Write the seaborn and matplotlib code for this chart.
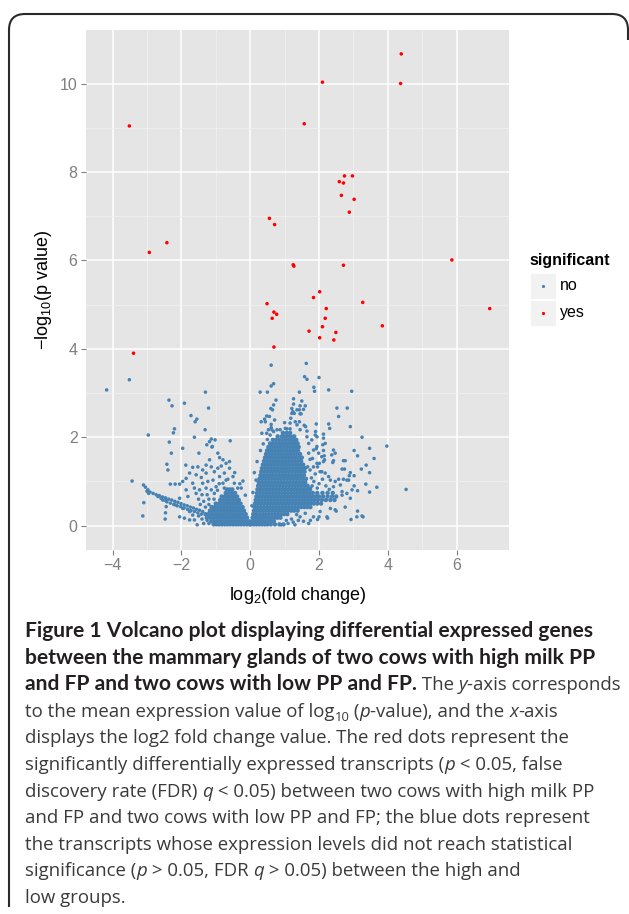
import matplotlib.pyplot as plt
from matplotlib.lines import Line2D
from matplotlib.patches import Rectangle, PathPatch
from matplotlib.path import Path
import pandas as pd
import seaborn as sns

# SIGNIFICANT TRANSCRIPTS (RED)
sig_x = [4.39, 2.10, 4.37, -3.51, 1.57, 2.74, 2.97, 2.59, 2.71, 2.65, 3.02, 2.88, 0.56, 0.71,
         -2.42, -2.93, 5.86, 1.25, 1.27, 2.71, 2.02, 1.84, 0.49, 3.27, 6.96, 2.21, 0.69, 0.77,
         0.64, 2.18, 3.84, 2.10, 1.71, 2.49, 2.02, 2.43, 0.69, -3.39]
sig_y = [10.67, 10.03, 10.00, 9.04, 9.09, 7.91, 7.91, 7.78, 7.75, 7.47, 7.38, 7.09, 6.95, 6.81,
         6.40, 6.18, 6.01, 5.90, 5.87, 5.89, 5.29, 5.16, 5.02, 5.05, 4.91, 4.91, 4.83, 4.78,
         4.69, 4.69, 4.52, 4.50, 4.40, 4.37, 4.25, 4.20, 4.04, 3.90]

# NON-SIGNIFICANT, SCATTERED, LEFT OF ZERO
left_x = [-4.17, -3.51, -1.30, -2.36, -1.91, -2.27, -1.21, -1.72, -1.55, -1.60, -2.20, -2.23,
          -1.31, -2.96, -1.62, -1.13, -1.02, -0.58, -2.35, -1.18, -1.26, -1.11, -1.96, -2.29,
          -1.49, -2.42, -1.87, -2.39, -1.18, -0.89, -1.67, -1.52, -1.38, -1.28, -3.43, -3.10,
          -3.04, -2.97, -2.95, -3.09, -3.12, -2.46, -2.44, -2.46, -2.47, -2.32, -2.18, -2.05,
          -0.21, -0.14, -1.54, -1.76, -1.57, -1.42, -1.13, -1.04, -0.94, -0.84, -0.75, -0.60,
          -0.89, -1.08, -1.23, -1.38, -1.67, -1.86, -1.96, -1.86, -1.62, -1.47, -1.28, -1.13,
          -0.99, -0.79, -0.70, -0.50, -0.46, -0.36, -1.04, -1.57, -1.81, -2.05, -2.17, -1.96,
          -1.76, -1.67, -1.91, -2.05, -1.76, -1.62, -2.68, -2.59, -2.54, -1.28, -0.70, -0.60,
          -0.79, -0.94, -1.10, -0.26, -1.20, -1.35, -1.50, -1.25, -0.95, -1.40, -0.75, -0.90,
          -1.05, -1.20, -1.45, -1.30, -1.40, -1.25, -1.50, -1.20, -1.35, -0.30, -0.45, -0.65]
left_y = [3.07, 3.30, 3.02, 2.84, 2.77, 2.71, 2.66, 2.49, 2.41, 2.35, 2.19, 2.10,
          2.17, 2.05, 2.00, 1.96, 1.94, 1.92, 1.89, 1.90, 1.83, 1.78, 1.75, 1.64,
          1.64, 1.39, 1.37, 1.26, 1.49, 1.54, 1.32, 1.33, 1.26, 1.19, 1.01, 0.92,
          0.87, 0.81, 0.73, 0.52, 0.22, 0.57, 0.43, 0.29, 0.15, 0.94, 0.94, 0.94,
          1.01, 0.69, 0.02, 1.19, 1.15, 1.09, 1.33, 1.22, 1.30, 1.35, 1.19, 1.30,
          1.11, 1.03, 1.00, 0.96, 0.96, 0.81, 1.00, 1.07, 0.85, 0.81, 0.85, 0.81,
          0.88, 0.96, 1.03, 1.11, 0.96, 0.85, 0.73, 0.73, 0.66, 0.62, 0.47, 0.39,
          0.32, 0.24, 0.17, 0.20, 0.13, 0.13, 0.66, 0.62, 0.58, 1.37, 1.41, 1.45,
          1.49, 1.64, 1.79, 0.85, 0.60, 0.55, 0.60, 0.70, 0.80, 0.70, 0.85, 0.95,
          0.60, 0.48, 0.48, 0.42, 0.15, 0.12, 0.22, 0.05, 0.05, 0.95, 1.20, 1.05]

# NON-SIGNIFICANT, SCATTERED, RIGHT OF ZERO
right_x = [0.61, 1.63, 1.58, 1.65, 2.00, 0.68, 0.61, 0.29, 0.50, 1.43, 1.85, 1.87, 2.28, 2.95,
           0.75, 0.68, 0.60, 0.65, 1.26, 1.26, 1.21, 1.24, 1.21, 1.50, 1.60, 1.55, 1.43, 1.48,
           2.52, 2.82, 2.57, 0.48, 0.42, 0.32, 0.71, 0.61, 0.61, 0.53, 0.68, 1.00, 1.31, 1.36,
           1.43, 1.92, 2.28, 2.31, 2.91, 1.07, 1.16, 0.87, 1.45, 1.61, 1.65, 1.90, 2.13, 2.13,
           3.25, 1.45, 1.36, 1.28, 1.45, 1.18, 0.56, 0.44, 0.34, 0.48, 0.63, 0.78, 1.02, 1.16,
           1.57, 0.17, 0.05, 0.08, 0.12, 0.20, 0.30, 0.38, 0.50, 0.58, 3.02, 3.12, 3.37, 3.68,
           3.47, 3.36, 3.12, 3.12, 3.25, 2.93, 3.02, 2.86, 2.76, 2.67, 2.40, 2.37, 2.15, 2.13,
           2.11, 2.50, 2.25, 1.96, 3.97, 3.47, 3.60, 3.23, 3.47, 3.02, 4.53, 3.10, 3.28, 2.76,
           2.67, 2.62, 2.23, 1.84, 2.00, 0.90, 2.42, 2.47, 2.42, 2.71, 2.74, 2.91, 2.88, 2.81,
           2.71, 2.57, 2.18, 2.16, 2.01, 2.08, 1.94, 1.92, 1.81, 1.96, 1.89, 1.70, 1.74, 1.67,
           1.65, 1.70, 1.79, 1.89, 1.94, 1.84, 1.99, 2.08, 2.13, 1.94, 1.84, 1.74, 2.03, 2.18,
           2.28, 2.33, 2.47, 2.42, 2.67, 2.81, 2.96, 2.91, 2.03, 2.33, 2.47, 1.10, 1.25, 1.40,
           1.55, 1.70, 1.30, 1.45, 1.75, 1.60, 1.35, 1.20, 1.05, 1.80, 1.85, 1.78, 2.00, 2.10,
           1.95, 2.20, 2.30, 1.75]
right_y = [3.63, 3.67, 3.37, 3.31, 3.35, 3.21, 3.16, 3.02, 3.02, 3.02, 3.13, 3.04, 3.07, 3.04,
           2.84, 2.73, 2.65, 2.62, 2.87, 2.75, 2.65, 2.58, 2.54, 2.82, 2.71, 2.63, 2.62, 2.53,
           2.66, 2.66, 2.47, 2.48, 2.41, 2.35, 2.39, 2.29, 2.22, 2.17, 2.13, 2.33, 2.35, 2.28,
           2.35, 2.30, 2.30, 2.20, 2.24, 2.19, 2.19, 2.17, 2.17, 2.24, 2.14, 2.13, 2.07, 1.98,
           2.00, 2.71, 2.62, 2.54, 2.53, 2.43, 2.47, 2.35, 2.09, 2.09, 2.17, 2.17, 2.20, 2.32,
           2.27, 1.03, 0.45, 0.75, 1.20, 1.45, 1.70, 1.85, 1.95, 2.05, 1.70, 1.58, 1.37, 0.87,
           0.76, 0.94, 0.79, 0.33, 0.22, 0.14, 1.13, 1.03, 1.47, 1.28, 1.43, 1.60, 1.58, 1.70,
           1.83, 0.33, 0.17, 0.14, 1.80, 1.75, 1.52, 1.28, 1.20, 0.90, 0.82, 0.20, 0.20, 0.42,
           0.69, 0.92, 0.20, 0.20, 0.20, 0.02, 1.71, 1.64, 1.47, 1.47, 1.28, 1.20, 1.13, 1.03,
           1.05, 1.05, 1.86, 1.49, 1.41, 1.22, 2.01, 1.74, 1.52, 1.33, 1.17, 1.64, 1.50, 1.33,
           2.01, 1.86, 1.94, 2.05, 1.79, 1.71, 1.64, 1.56, 1.45, 1.41, 1.33, 1.26, 1.22, 1.19,
           1.11, 1.03, 1.00, 0.88, 0.77, 0.73, 0.81, 0.62, 0.32, 0.39, 0.36, 0.05, 0.08, 0.12,
           0.10, 0.05, 0.02, 0.20, 0.12, 0.28, 0.25, 0.15, 0.12, 0.90, 1.00, 1.08, 0.95, 1.05,
           0.85, 0.90, 0.82, 0.85]

# NON-SIGNIFICANT, LEFT WING BAND
lwing_x = [-1.38, -1.47, -1.56, -1.65, -1.74, -1.83, -1.92, -2.01, -2.10, -2.19, -2.28, -2.37,
           -2.46, -2.55, -2.64, -2.73, -2.82, -2.91, -3.00, -1.42, -1.52, -1.62, -1.72, -1.82,
           -1.92, -2.02, -2.12, -2.22, -2.32, -2.42]
lwing_y = [0.32, 0.35, 0.37, 0.40, 0.42, 0.45, 0.47, 0.50, 0.53, 0.55, 0.58, 0.60,
           0.63, 0.65, 0.68, 0.70, 0.73, 0.76, 0.78, 0.26, 0.29, 0.32, 0.34, 0.37,
           0.40, 0.43, 0.45, 0.48, 0.51, 0.54]

# NON-SIGNIFICANT, DENSE CORE: ONE Y PER ROW, THE X VALUES READ ALONG THAT ROW
core_y = [0.03, 0.10, 0.18, 0.26, 0.34, 0.42, 0.50, 0.58, 0.66, 0.74, 0.82, 0.90, 0.98, 1.06,
          1.14, 1.22, 1.30, 1.38, 1.46, 1.54, 1.62, 1.70, 1.78, 1.86, 1.94, 2.02, 2.10]
core_x = [
    [-1.06, -0.98, -0.9, -0.82, -0.74, -0.66, -0.58, -0.5, -0.42, -0.34, -0.26, -0.18, -0.1, -0.02,
     0.02, 0.1, 0.18, 0.26, 0.34, 0.42, 0.5, 0.6, 0.72, 0.85, 0.97],
    [-1.13, -1.04, -0.95, -0.86, -0.77, -0.68, -0.59, -0.5, -0.41, -0.32, -0.23, -0.14, -0.05,
     0.04, 0.12, 0.2, 0.28, 0.36, 0.44, 0.52, 0.6, 0.69],
    [-1.26, -1.17, -1.08, -0.99, -0.9, -0.81, -0.72, -0.63, -0.54, -0.45, -0.36, -0.27, -0.18, -0.09,
     0.07, 0.15, 0.23, 0.31, 0.39, 0.47, 0.55, 0.63, 0.71, 0.79, 0.88],
    [-1.3, -1.21, -1.12, -1.03, -0.94, -0.85, -0.76, -0.67, -0.58, -0.49, -0.4, -0.31, -0.22, -0.13,
     0.09, 0.18, 0.27, 0.36, 0.45, 0.54, 0.63, 0.72, 0.81, 0.9, 0.99, 1.08],
    [-1.17, -1.08, -0.99, -0.9, -0.81, -0.72, -0.63, -0.54, -0.45, -0.36, -0.27, -0.18,
     0.11, 0.2, 0.29, 0.38, 0.47, 0.56, 0.65, 0.74, 0.83, 0.92, 1.01, 1.1, 1.19, 1.28, 1.38],
    [-1.12, -1.03, -0.94, -0.85, -0.76, -0.67, -0.58, -0.49, -0.4, -0.31, -0.22,
     0.13, 0.22, 0.31, 0.4, 0.49, 0.58, 0.67, 0.76, 0.85, 0.94, 1.03, 1.12, 1.21, 1.3, 1.39,
     1.48, 1.57, 1.66, 1.75],
    [-1.0, -0.91, -0.82, -0.73, -0.64, -0.55, -0.46, -0.37, -0.28,
     0.14, 0.23, 0.32, 0.41, 0.5, 0.59, 0.68, 0.77, 0.86, 0.95, 1.04, 1.13, 1.22, 1.31, 1.4,
     1.49, 1.58, 1.67, 1.76, 1.85, 1.95, 2.06],
    [-0.87, -0.78, -0.69, -0.6, -0.51, -0.42, -0.33,
     0.16, 0.25, 0.34, 0.43, 0.52, 0.61, 0.7, 0.79, 0.88, 0.97, 1.06, 1.15, 1.24, 1.33, 1.42,
     1.51, 1.6, 1.69, 1.78, 1.87, 1.97, 2.08, 2.2, 2.33, 2.45],
    [-0.83, -0.74, -0.65, -0.56, -0.47, -0.38,
     0.18, 0.27, 0.36, 0.45, 0.54, 0.63, 0.72, 0.81, 0.9, 0.99, 1.08, 1.17, 1.26, 1.35, 1.44,
     1.53, 1.62, 1.71, 1.8, 1.9, 2.0, 2.12, 2.25, 2.38, 2.5],
    [-0.71, -0.62, -0.53, -0.44,
     0.2, 0.29, 0.38, 0.47, 0.56, 0.65, 0.74, 0.83, 0.92, 1.01, 1.1, 1.19, 1.28, 1.37, 1.46,
     1.55, 1.64, 1.73, 1.82, 1.95, 2.1, 2.25, 2.4],
    [-0.68, -0.6, -0.52,
     0.21, 0.3, 0.39, 0.48, 0.57, 0.66, 0.75, 0.84, 0.93, 1.02, 1.11, 1.2, 1.29, 1.38, 1.47,
     1.56, 1.65, 1.74],
    [0.23, 0.32, 0.41, 0.5, 0.59, 0.68, 0.77, 0.86, 0.95, 1.04, 1.13, 1.22, 1.31, 1.4, 1.49,
     1.58, 1.67],
    [0.25, 0.34, 0.43, 0.52, 0.61, 0.7, 0.79, 0.88, 0.97, 1.06, 1.15, 1.24, 1.33, 1.42, 1.51, 1.6],
    [0.27, 0.36, 0.45, 0.54, 0.63, 0.72, 0.81, 0.9, 0.99, 1.08, 1.17, 1.26, 1.35, 1.44, 1.53, 1.62],
    [0.3, 0.39, 0.48, 0.57, 0.66, 0.75, 0.84, 0.93, 1.02, 1.11, 1.2, 1.29, 1.38, 1.47, 1.56],
    [0.32, 0.41, 0.5, 0.59, 0.68, 0.77, 0.86, 0.95, 1.04, 1.13, 1.22, 1.31, 1.4, 1.49, 1.58],
    [0.34, 0.43, 0.52, 0.61, 0.7, 0.79, 0.88, 0.97, 1.06, 1.15, 1.24, 1.33, 1.42, 1.51, 1.59],
    [0.37, 0.46, 0.55, 0.64, 0.73, 0.82, 0.91, 1.0, 1.09, 1.18, 1.27, 1.36, 1.45, 1.54],
    [0.4, 0.49, 0.58, 0.67, 0.76, 0.85, 0.94, 1.03, 1.12, 1.21, 1.3, 1.39, 1.48],
    [0.43, 0.52, 0.61, 0.7, 0.79, 0.88, 0.97, 1.06, 1.15, 1.24, 1.33, 1.42, 1.5],
    [0.46, 0.55, 0.64, 0.73, 0.82, 0.91, 1.0, 1.09, 1.18, 1.27, 1.36, 1.45],
    [0.49, 0.58, 0.67, 0.76, 0.85, 0.94, 1.03, 1.12, 1.21, 1.3, 1.39],
    [0.53, 0.62, 0.71, 0.8, 0.89, 0.98, 1.07, 1.16, 1.25, 1.34, 1.41],
    [0.58, 0.67, 0.76, 0.85, 0.94, 1.03, 1.12, 1.21, 1.3, 1.38],
    [0.66, 0.75, 0.84, 0.93, 1.02, 1.11, 1.2, 1.28, 1.34],
    [0.8, 0.92, 1.01, 1.1, 1.19, 1.28],
    [0.95, 1.06, 1.16],
]

# AXIS AND LEGEND TEXT
x_ticks = [-4, -2, 0, 2, 4, 6]
y_ticks = [0, 2, 4, 6, 8, 10]
x_title = r'log$_2$(fold change)'
y_title = '\u2212log$_{10}$(p value)'
legend_title = 'significant'
legend_labels = ['no', 'yes']
point_colors = {'no': 'steelblue', 'yes': 'red'}

# CAPTION: (text, style) PIECES PER LINE
caption = [
    [('Figure 1 Volcano plot displaying differential expressed genes', 'b')],
    [('between the mammary glands of two cows with high milk PP', 'b')],
    [('and FP and two cows with low PP and FP.', 'b'), (' The ', 'r'), ('y', 'i'),
     ('-axis corresponds', 'r')],
    [('to the mean expression value of log', 'r'), ('10', 's'), (' (', 'r'), ('p', 'i'),
     ('-value), and the ', 'r'), ('x', 'i'), ('-axis', 'r')],
    [('displays the log2 fold change value. The red dots represent the', 'r')],
    [('significantly differentially expressed transcripts (', 'r'), ('p', 'i'),
     (' < 0.05, false', 'r')],
    [('discovery rate (FDR) ', 'r'), ('q', 'i'), (' < 0.05) between two cows with high milk PP', 'r')],
    [('and FP and two cows with low PP and FP; the blue dots represent', 'r')],
    [('the transcripts whose expression levels did not reach statistical', 'r')],
    [('significance (', 'r'), ('p', 'i'), (' > 0.05, FDR ', 'r'), ('q', 'i'),
     (' > 0.05) between the high and', 'r')],
    [('low groups.', 'r')],
]

# BUILD TABLES: SCATTERED BLUE, DENSE BLUE CORE, RED
rows = []
for x, y in zip(left_x + right_x + lwing_x, left_y + right_y + lwing_y):
    rows.append((x, y, 'no'))
for x, y in zip(sig_x, sig_y):
    rows.append((x, y, 'yes'))
volcano = pd.DataFrame(rows, columns=['log2fc', 'logp', 'significant'])

core_rows = []
for y, xs in zip(core_y, core_x):
    for x in xs:
        core_rows.append((x, y, 'no'))
core = pd.DataFrame(core_rows, columns=['log2fc', 'logp', 'significant'])

plt.rcParams['font.family'] = ['Liberation Sans Narrow', 'Liberation Sans', 'DejaVu Sans']
plt.rcParams['mathtext.default'] = 'regular'

W, H = 629, 914
def fx(px): return px / W
def fy(py): return 1 - py / H

fig = plt.figure(figsize=(6.29, 9.14), dpi=100)
ax = fig.add_axes([fx(86), fy(550), 423 / W, 520 / H])

# thousands of overlapping points in the core read as one solid mass
sns.scatterplot(data=core, x='log2fc', y='logp', hue='significant', palette=point_colors,
                s=10, linewidth=0, legend=False, ax=ax, zorder=3)
sns.scatterplot(data=volcano, x='log2fc', y='logp', hue='significant', palette=point_colors,
                s=6.5, linewidth=0, legend=False, ax=ax, zorder=4)

# GGPLOT-LIKE PANEL
ax.set_facecolor('#E5E5E5')
ax.set_xlim(-4.77, 7.52)
ax.set_ylim(-0.55, 11.21)
ax.set_xticks(x_ticks)
ax.set_xticks([-3, -1, 1, 3, 5], minor=True)
ax.set_yticks(y_ticks)
ax.set_yticks([1, 3, 5, 7, 9], minor=True)
ax.grid(which='major', color='white', lw=1.1)
ax.grid(which='minor', color='#F2F2F2', lw=0.55)
ax.set_axisbelow(True)
for s in ax.spines.values():
    s.set_visible(False)
ax.tick_params(which='major', length=3.6, width=0.8, color='#7F7F7F',
               labelcolor='#7F7F7F', labelsize=11.5, pad=2.5)
ax.tick_params(which='minor', length=0)

ax.set_xlabel(x_title, fontsize=13, family='Liberation Sans', color='black')
ax.set_ylabel(y_title, fontsize=13, family='Liberation Sans', color='black')
ax.xaxis.set_label_coords(0.5, (550 - 595) / 520)
ax.xaxis.label.set_va('center')
ax.yaxis.set_label_coords((43 - 86) / 423, 0.5)
ax.yaxis.label.set_va('center')

# LEGEND (DRAWN BY HAND IN GGPLOT STYLE)
fig.text(fx(529), fy(261), legend_title, fontsize=11.5, fontweight='bold',
         family='Liberation Sans', va='center')
for i, lab in enumerate(legend_labels):
    top = 273 + 27 * i
    fig.add_artist(Rectangle((fx(530), fy(top + 26)), 26 / W, 26 / H,
                             transform=fig.transFigure, fc='#F2F2F2', ec='white', lw=0.6))
    fig.add_artist(Line2D([fx(543)], [fy(top + 13)], marker='o', ms=2.3, mew=0,
                          color=point_colors[lab], transform=fig.transFigure))
    fig.text(fx(560), fy(top + 13), lab, fontsize=11.5, family='Liberation Sans', va='center')

# PAGE FRAME WITH ROUNDED TOP CORNERS
frame = Path([(fx(9), fy(907)), (fx(9), fy(30)), (fx(9), fy(14)), (fx(25), fy(14)),
              (fx(612), fy(14)), (fx(628), fy(14)), (fx(628), fy(30)), (fx(628), fy(40))],
             [Path.MOVETO, Path.LINETO, Path.CURVE3, Path.CURVE3, Path.LINETO, Path.CURVE3,
              Path.CURVE3, Path.LINETO])
fig.add_artist(PathPatch(frame, fc='none', ec='#2A2A2A', lw=1.5, transform=fig.transFigure))

# CAPTION
renderer = fig.canvas.get_renderer()

def piece_width(txt, st):
    a = fig.text(0, 0, txt + 'x', **st)
    b = fig.text(0, 0, 'x', **st)
    w = a.get_window_extent(renderer).width - b.get_window_extent(renderer).width
    a.remove()
    b.remove()
    return w

# size the two caption fonts so the full-width lines span the same pixels as the page
bold_st = dict(family='Lato', fontweight='bold', fontsize=14, color='#231F20')
bold_st['fontsize'] *= 571 / piece_width(caption[0][0][0], bold_st)
reg_st = dict(family='Open Sans', fontsize=12.6, color='#3A3A3A')
reg_st['fontsize'] *= 544 / piece_width(caption[4][0][0], reg_st)

def piece_style(kind):
    if kind == 'b':
        return dict(bold_st)
    st = dict(reg_st)
    if kind == 'i':
        st['fontstyle'] = 'italic'
    elif kind == 's':
        st['fontsize'] *= 0.7
    return st

for k, line in enumerate(caption):
    base = 637 + 26.6 * k
    x = 25
    for txt, kind in line:
        st = piece_style(kind)
        y = base + 4 if kind == 's' else base
        fig.text(fx(x), fy(y), txt, va='baseline', **st)
        x += piece_width(txt, st)

fig.savefig('out.png', dpi=100)
